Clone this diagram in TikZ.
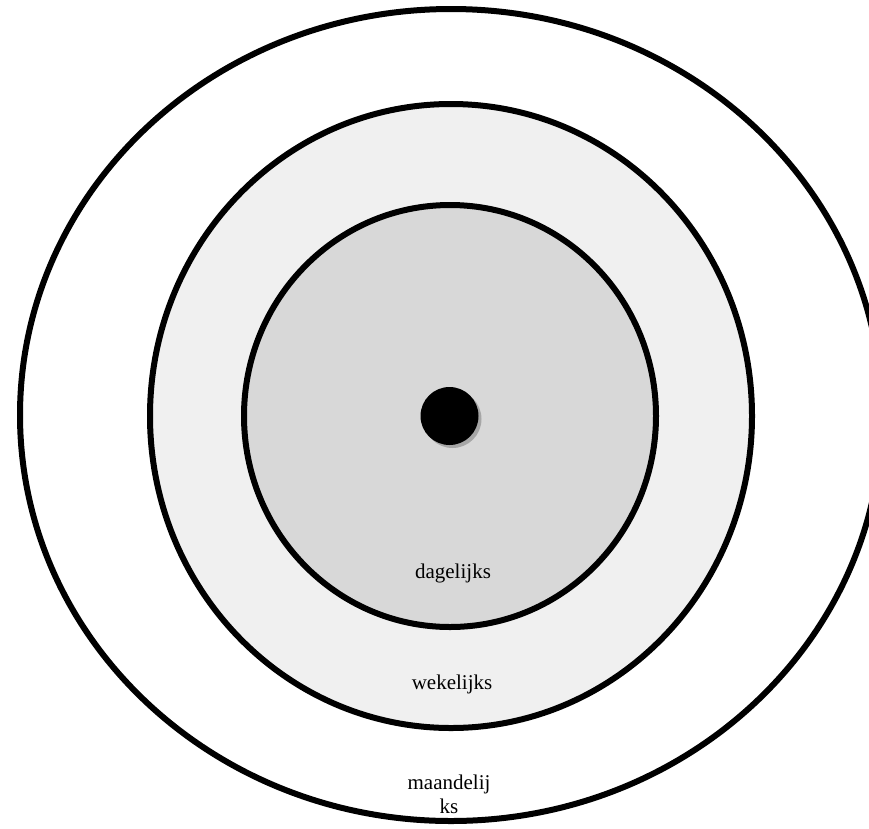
\documentclass[tikz,border=0pt]{standalone}
\usepackage{fontspec}
\setmainfont{Liberation Serif}
\begin{document}
\begin{tikzpicture}[x=1pt,y=-1pt,
  ring/.style={draw=black,line width=6pt},
  lbl/.style={font=\fontsize{21}{24}\selectfont,align=center,inner sep=0pt}]
\clip (0,0) rectangle (869,828);
\fill[white] (0,0) rectangle (869,828);
\draw[ring,fill=white] (451,415) ellipse [x radius=431, y radius=406];
\draw[ring,fill={rgb,255:red,240;green,240;blue,240}] (451,416) ellipse [x radius=301, y radius=312];
\draw[ring,fill={rgb,255:red,216;green,216;blue,216}] (450,416) ellipse [x radius=206, y radius=211];
\fill[gray!70] (452.5,419) circle (29);
\node[circle,fill=black,minimum size=58pt,inner sep=0pt] (dot) at (449.5,416) {};
\node[lbl] (d) at (453,573) {dagelijks};
\node[lbl] (w) at (452,684) {wekelijks};
\node[lbl] (m) at (449,794) {maandelij\\ks};
\end{tikzpicture}
\end{document}
